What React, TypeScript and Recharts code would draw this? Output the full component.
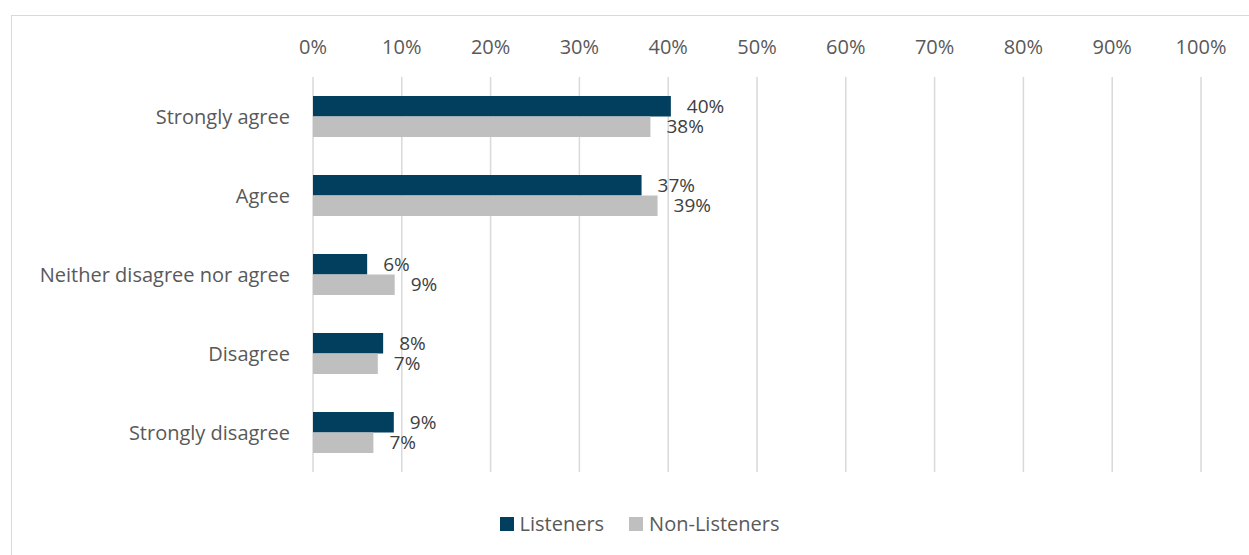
import { BarChart, Bar, XAxis, YAxis, CartesianGrid, LabelList } from 'recharts';

const categories = ['Strongly agree', 'Agree', 'Neither disagree nor agree', 'Disagree', 'Strongly disagree'];
const listeners = [40.3, 37, 6.1, 7.9, 9.1];
const nonListeners = [38, 38.8, 9.2, 7.3, 6.8];
const xTicks = [0, 10, 20, 30, 40, 50, 60, 70, 80, 90, 100];

const SERIES = [
  { key: 'listeners', name: 'Listeners', color: '#023F5F' },
  { key: 'nonListeners', name: 'Non-Listeners', color: '#BFBFBF' },
];

const FONT = '"Open Sans", sans-serif';

const data = categories.map((c, i) => ({ category: c, listeners: listeners[i], nonListeners: nonListeners[i] }));

function LegendBox() {
  return (
    <div style={{position:'absolute', left:0, top:'510px', width:'1279px', display:'flex', justifyContent:'center', alignItems:'center', gap:'25px', fontFamily:FONT, fontSize:'20px', color:'#595959'}}>
      {SERIES.map(s => (
        <div key={s.key} style={{display:'flex', alignItems:'center', gap:'6px'}}>
          <span style={{display:'inline-block', width:'14px', height:'14px', background:s.color}}/>
          <span>{s.name}</span>
        </div>
      ))}
    </div>
  );
}

export default function App() {
  return (
    <div style={{position:'absolute', left:0, top:0, width:'1249px', height:'555px', background:'#fff', overflow:'hidden'}}>
      <div style={{position:'absolute', left:'11px', top:'15px', width:'1260px', height:'600px', border:'1px solid #D9D9D9'}}/>
      <div style={{position:'absolute', left:0, top:0}}>
        <BarChart width={1249} height={555} data={data} layout="vertical"
          margin={{top:17, right:48, bottom:83, left:0}} barGap={0}>
          <CartesianGrid horizontal={false} stroke="#D9D9D9" strokeWidth={1.5}/>
          <XAxis type="number" orientation="top" domain={[0, 100]} ticks={xTicks} height={60}
            axisLine={false} tickLine={false} tickMargin={17} interval={0}
            tickFormatter={(v) => `${v}%`}
            tick={{fill:'#595959', fontSize:20, fontFamily:FONT}}/>
          <YAxis type="category" dataKey="category" width={313}
            axisLine={false} tickLine={false} tickMargin={17}
            tick={{fill:'#595959', fontSize:20, fontFamily:FONT}}/>
          {SERIES.map(s => (
            <Bar key={s.key} dataKey={s.key} name={s.name} fill={s.color} barSize={20.5} isAnimationActive={false}>
              <LabelList dataKey={s.key} position="right" offset={16}
                formatter={(v: number) => `${Math.round(v)}%`}
                style={{fill:'#404040', fontSize:19, fontFamily:FONT}}/>
            </Bar>
          ))}
        </BarChart>
      </div>
      <LegendBox/>
    </div>
  );
}
